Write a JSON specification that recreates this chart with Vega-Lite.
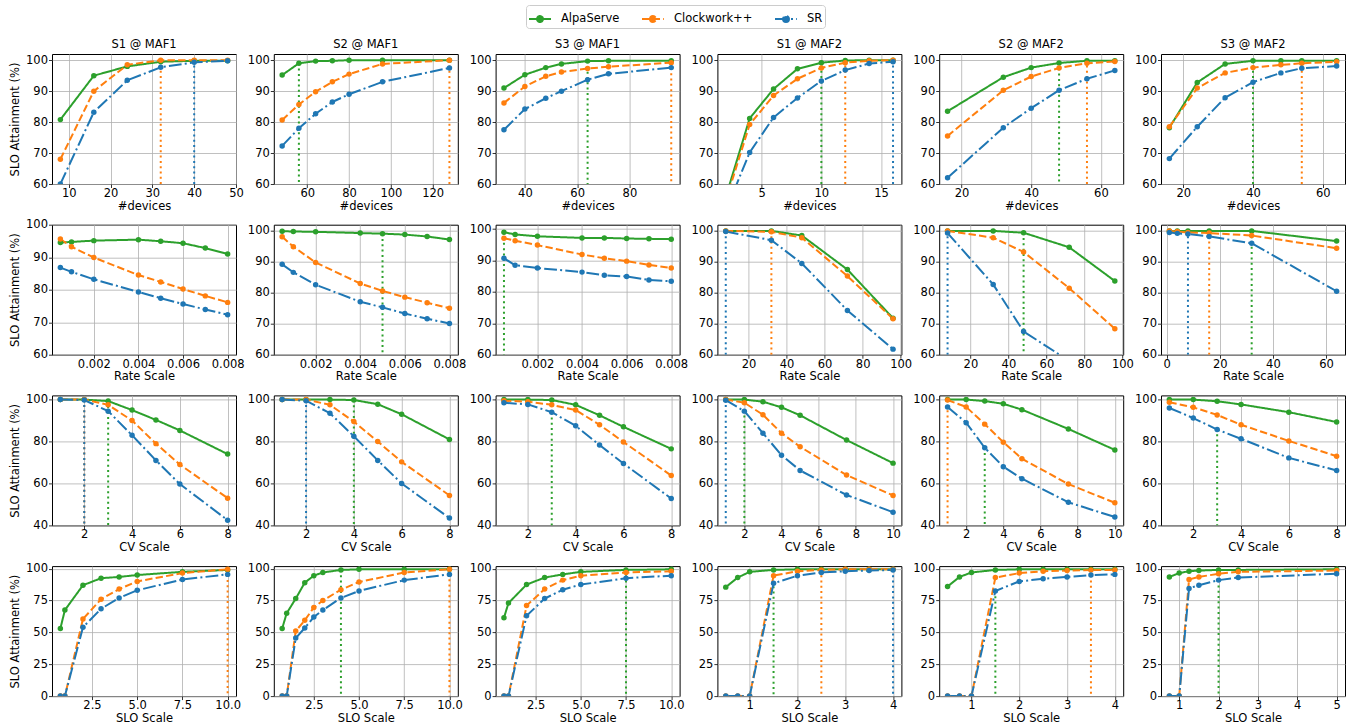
{
"$schema":"https://vega.github.io/schema/vega-lite/v6.json",
"padding":{"left":9,"top":4,"right":0,"bottom":0},
"datasets":{
"d":[
{"p":11,"x":8,"AlpaServe":80.8,"Clockwork++":68,"SR":60},
{"p":11,"x":16,"AlpaServe":95,"Clockwork++":90,"SR":83.2},
{"p":11,"x":24,"AlpaServe":98,"Clockwork++":98.5,"SR":93.5},
{"p":11,"x":32,"AlpaServe":99.5,"Clockwork++":100,"SR":97.7},
{"p":11,"x":40,"AlpaServe":99.8,"Clockwork++":100,"SR":99.3},
{"p":11,"x":48,"AlpaServe":99.8,"Clockwork++":100,"SR":99.8},
{"p":12,"x":48,"AlpaServe":95.2,"Clockwork++":80.7,"SR":72.3},
{"p":12,"x":56,"AlpaServe":99,"Clockwork++":85.7,"SR":78},
{"p":12,"x":64,"AlpaServe":99.7,"Clockwork++":89.8,"SR":82.7},
{"p":12,"x":72,"AlpaServe":99.8,"Clockwork++":93,"SR":86.5},
{"p":12,"x":80,"AlpaServe":100,"Clockwork++":95.5,"SR":89},
{"p":12,"x":96,"AlpaServe":100,"Clockwork++":98.8,"SR":93},
{"p":12,"x":128,"AlpaServe":100,"Clockwork++":100,"SR":97.5},
{"p":13,"x":32,"AlpaServe":91,"Clockwork++":86.2,"SR":77.5},
{"p":13,"x":40,"AlpaServe":95.3,"Clockwork++":91.5,"SR":84.2},
{"p":13,"x":48,"AlpaServe":97.6,"Clockwork++":94.8,"SR":87.7},
{"p":13,"x":54,"AlpaServe":98.8,"Clockwork++":96.2,"SR":90},
{"p":13,"x":64,"AlpaServe":99.7,"Clockwork++":97.3,"SR":93.7},
{"p":13,"x":72,"AlpaServe":99.8,"Clockwork++":97.9,"SR":95.6},
{"p":13,"x":96,"AlpaServe":99.8,"Clockwork++":99.2,"SR":97.6},
{"p":14,"x":2,"AlpaServe":55.8,"Clockwork++":54.6,"SR":51.3},
{"p":14,"x":4,"AlpaServe":81.2,"Clockwork++":79.2,"SR":70.2},
{"p":14,"x":6,"AlpaServe":90.7,"Clockwork++":88.6,"SR":81.5},
{"p":14,"x":8,"AlpaServe":97.2,"Clockwork++":94,"SR":87.8},
{"p":14,"x":10,"AlpaServe":99.2,"Clockwork++":97.5,"SR":93.3},
{"p":14,"x":12,"AlpaServe":99.9,"Clockwork++":99.2,"SR":96.8},
{"p":14,"x":14,"AlpaServe":100,"Clockwork++":99.8,"SR":98.9},
{"p":14,"x":16,"AlpaServe":100,"Clockwork++":100,"SR":99.5},
{"p":15,"x":16,"AlpaServe":83.5,"Clockwork++":75.5,"SR":62},
{"p":15,"x":32,"AlpaServe":94.5,"Clockwork++":90.3,"SR":78.2},
{"p":15,"x":40,"AlpaServe":97.6,"Clockwork++":94.7,"SR":84.5},
{"p":15,"x":48,"AlpaServe":99.1,"Clockwork++":97.5,"SR":90.3},
{"p":15,"x":56,"AlpaServe":99.8,"Clockwork++":99,"SR":94},
{"p":15,"x":64,"AlpaServe":99.8,"Clockwork++":99.6,"SR":96.7},
{"p":16,"x":16,"AlpaServe":78.2,"Clockwork++":78.5,"SR":68.2},
{"p":16,"x":24,"AlpaServe":92.8,"Clockwork++":91,"SR":78.5},
{"p":16,"x":32,"AlpaServe":98.8,"Clockwork++":95.9,"SR":87.9},
{"p":16,"x":40,"AlpaServe":99.8,"Clockwork++":97.6,"SR":92.9},
{"p":16,"x":48,"AlpaServe":99.8,"Clockwork++":98.5,"SR":95.9},
{"p":16,"x":54,"AlpaServe":99.8,"Clockwork++":99,"SR":97.4},
{"p":16,"x":64,"AlpaServe":99.8,"Clockwork++":99.5,"SR":98.1},
{"p":21,"x":0.0005,"AlpaServe":94.5,"Clockwork++":95.6,"SR":86.8},
{"p":21,"x":0.001,"AlpaServe":94.7,"Clockwork++":93.2,"SR":85.5},
{"p":21,"x":0.002,"AlpaServe":95.1,"Clockwork++":89.9,"SR":83.2},
{"p":21,"x":0.004,"AlpaServe":95.4,"Clockwork++":84.5,"SR":79.3},
{"p":21,"x":0.005,"AlpaServe":94.9,"Clockwork++":82.4,"SR":77.4},
{"p":21,"x":0.006,"AlpaServe":94.3,"Clockwork++":80.2,"SR":75.6},
{"p":21,"x":0.007,"AlpaServe":92.8,"Clockwork++":78.1,"SR":73.9},
{"p":21,"x":0.008,"AlpaServe":91,"Clockwork++":76.1,"SR":72.3},
{"p":22,"x":0.0005,"AlpaServe":99.9,"Clockwork++":98.1,"SR":89.2},
{"p":22,"x":0.001,"AlpaServe":99.8,"Clockwork++":94.9,"SR":86.6},
{"p":22,"x":0.002,"AlpaServe":99.7,"Clockwork++":89.8,"SR":82.6},
{"p":22,"x":0.004,"AlpaServe":99.3,"Clockwork++":83,"SR":77.1},
{"p":22,"x":0.005,"AlpaServe":99.1,"Clockwork++":80.6,"SR":75.3},
{"p":22,"x":0.006,"AlpaServe":98.8,"Clockwork++":78.6,"SR":73.3},
{"p":22,"x":0.007,"AlpaServe":98.2,"Clockwork++":76.8,"SR":71.6},
{"p":22,"x":0.008,"AlpaServe":97.2,"Clockwork++":75,"SR":70.1},
{"p":23,"x":0.0005,"AlpaServe":99,"Clockwork++":97.1,"SR":90.7},
{"p":23,"x":0.001,"AlpaServe":98.3,"Clockwork++":96.3,"SR":88.5},
{"p":23,"x":0.002,"AlpaServe":97.7,"Clockwork++":94.9,"SR":87.6},
{"p":23,"x":0.004,"AlpaServe":97.2,"Clockwork++":91.9,"SR":86.3},
{"p":23,"x":0.005,"AlpaServe":97.2,"Clockwork++":90.7,"SR":85.3},
{"p":23,"x":0.006,"AlpaServe":97,"Clockwork++":89.8,"SR":84.9},
{"p":23,"x":0.007,"AlpaServe":96.9,"Clockwork++":88.6,"SR":83.8},
{"p":23,"x":0.008,"AlpaServe":96.8,"Clockwork++":87.6,"SR":83.4},
{"p":24,"x":8,"AlpaServe":100,"Clockwork++":100,"SR":99.8},
{"p":24,"x":32,"AlpaServe":100,"Clockwork++":99.7,"SR":97},
{"p":24,"x":48,"AlpaServe":98.5,"Clockwork++":97.8,"SR":89.5},
{"p":24,"x":72,"AlpaServe":87.5,"Clockwork++":85.4,"SR":74.3},
{"p":24,"x":96,"AlpaServe":71.8,"Clockwork++":71.6,"SR":61.8},
{"p":25,"x":8,"AlpaServe":100,"Clockwork++":100,"SR":99.3},
{"p":25,"x":32,"AlpaServe":100,"Clockwork++":97.8,"SR":82.7},
{"p":25,"x":48,"AlpaServe":99.4,"Clockwork++":93.2,"SR":67.5},
{"p":25,"x":72,"AlpaServe":94.7,"Clockwork++":81.5,"SR":58},
{"p":25,"x":96,"AlpaServe":83.8,"Clockwork++":68.4,"SR":46},
{"p":26,"x":1,"AlpaServe":100,"Clockwork++":100,"SR":99.5},
{"p":26,"x":4,"AlpaServe":100,"Clockwork++":99.8,"SR":99.2},
{"p":26,"x":8,"AlpaServe":100,"Clockwork++":99.5,"SR":99},
{"p":26,"x":16,"AlpaServe":100,"Clockwork++":99.3,"SR":98.2},
{"p":26,"x":32,"AlpaServe":100,"Clockwork++":98.5,"SR":96},
{"p":26,"x":64,"AlpaServe":96.7,"Clockwork++":94.4,"SR":80.5},
{"p":31,"x":1,"AlpaServe":100,"Clockwork++":100,"SR":100},
{"p":31,"x":2,"AlpaServe":100,"Clockwork++":100,"SR":99.8},
{"p":31,"x":3,"AlpaServe":99.3,"Clockwork++":97.5,"SR":94.5},
{"p":31,"x":4,"AlpaServe":95,"Clockwork++":90,"SR":83},
{"p":31,"x":5,"AlpaServe":90.3,"Clockwork++":79,"SR":71},
{"p":31,"x":6,"AlpaServe":85.3,"Clockwork++":69,"SR":59.7},
{"p":31,"x":8,"AlpaServe":74,"Clockwork++":53,"SR":42.5},
{"p":32,"x":1,"AlpaServe":100,"Clockwork++":100,"SR":100},
{"p":32,"x":2,"AlpaServe":100,"Clockwork++":100,"SR":99.5},
{"p":32,"x":3,"AlpaServe":100,"Clockwork++":97.5,"SR":93.5},
{"p":32,"x":4,"AlpaServe":99.8,"Clockwork++":89.5,"SR":82.5},
{"p":32,"x":5,"AlpaServe":97.8,"Clockwork++":80,"SR":71},
{"p":32,"x":6,"AlpaServe":93,"Clockwork++":70.3,"SR":60},
{"p":32,"x":8,"AlpaServe":81,"Clockwork++":54.3,"SR":43.5},
{"p":33,"x":1,"AlpaServe":100,"Clockwork++":99.5,"SR":98.5},
{"p":33,"x":2,"AlpaServe":100,"Clockwork++":99,"SR":97.7},
{"p":33,"x":3,"AlpaServe":99.8,"Clockwork++":97.5,"SR":94},
{"p":33,"x":4,"AlpaServe":97.5,"Clockwork++":95,"SR":87.5},
{"p":33,"x":5,"AlpaServe":92.5,"Clockwork++":88,"SR":78.3},
{"p":33,"x":6,"AlpaServe":87,"Clockwork++":79.8,"SR":69.5},
{"p":33,"x":8,"AlpaServe":76.5,"Clockwork++":63.8,"SR":52.8},
{"p":34,"x":1,"AlpaServe":100,"Clockwork++":100,"SR":99.7},
{"p":34,"x":2,"AlpaServe":100,"Clockwork++":98.5,"SR":94.5},
{"p":34,"x":3,"AlpaServe":99,"Clockwork++":92.8,"SR":84},
{"p":34,"x":4,"AlpaServe":96.3,"Clockwork++":84,"SR":73.5},
{"p":34,"x":5,"AlpaServe":92.5,"Clockwork++":77.5,"SR":66.2},
{"p":34,"x":7.5,"AlpaServe":80.7,"Clockwork++":64,"SR":54.5},
{"p":34,"x":10,"AlpaServe":69.7,"Clockwork++":54.3,"SR":46.3},
{"p":35,"x":1,"AlpaServe":100,"Clockwork++":99.8,"SR":96.5},
{"p":35,"x":2,"AlpaServe":100,"Clockwork++":96.5,"SR":89},
{"p":35,"x":3,"AlpaServe":99.3,"Clockwork++":88.3,"SR":77},
{"p":35,"x":4,"AlpaServe":98,"Clockwork++":79.7,"SR":68},
{"p":35,"x":5,"AlpaServe":95.2,"Clockwork++":71.8,"SR":62.3},
{"p":35,"x":7.5,"AlpaServe":86,"Clockwork++":59.7,"SR":51},
{"p":35,"x":10,"AlpaServe":76,"Clockwork++":50.8,"SR":44},
{"p":36,"x":1,"AlpaServe":100,"Clockwork++":98.7,"SR":96},
{"p":36,"x":2,"AlpaServe":100,"Clockwork++":96.3,"SR":91.2},
{"p":36,"x":3,"AlpaServe":99.2,"Clockwork++":92.7,"SR":85.7},
{"p":36,"x":4,"AlpaServe":97.7,"Clockwork++":88,"SR":81.3},
{"p":36,"x":6,"AlpaServe":94,"Clockwork++":80.3,"SR":72.2},
{"p":36,"x":8,"AlpaServe":89.3,"Clockwork++":73,"SR":66.2},
{"p":41,"x":0.75,"AlpaServe":53,"Clockwork++":0,"SR":0},
{"p":41,"x":1,"AlpaServe":67.5,"Clockwork++":0,"SR":0},
{"p":41,"x":2,"AlpaServe":87,"Clockwork++":60.5,"SR":54},
{"p":41,"x":3,"AlpaServe":92.5,"Clockwork++":76,"SR":68.5},
{"p":41,"x":4,"AlpaServe":93.5,"Clockwork++":84,"SR":77},
{"p":41,"x":5,"AlpaServe":95,"Clockwork++":90,"SR":83},
{"p":41,"x":7.5,"AlpaServe":97.5,"Clockwork++":96.5,"SR":91.5},
{"p":41,"x":10,"AlpaServe":99,"Clockwork++":99.5,"SR":95.5},
{"p":42,"x":0.75,"AlpaServe":53,"Clockwork++":0,"SR":0},
{"p":42,"x":1,"AlpaServe":65,"Clockwork++":0,"SR":0},
{"p":42,"x":1.5,"AlpaServe":76.5,"Clockwork++":51,"SR":45.5},
{"p":42,"x":2,"AlpaServe":89,"Clockwork++":59.5,"SR":53.5},
{"p":42,"x":2.5,"AlpaServe":94.5,"Clockwork++":69.5,"SR":62},
{"p":42,"x":3,"AlpaServe":97,"Clockwork++":75,"SR":67.5},
{"p":42,"x":4,"AlpaServe":99,"Clockwork++":83.5,"SR":77},
{"p":42,"x":5,"AlpaServe":99.5,"Clockwork++":89.5,"SR":82.5},
{"p":42,"x":7.5,"AlpaServe":99.5,"Clockwork++":97,"SR":91},
{"p":42,"x":10,"AlpaServe":99.5,"Clockwork++":99.5,"SR":95.5},
{"p":43,"x":0.75,"AlpaServe":61.5,"Clockwork++":0,"SR":0},
{"p":43,"x":1,"AlpaServe":73,"Clockwork++":0,"SR":0},
{"p":43,"x":2,"AlpaServe":87.5,"Clockwork++":71,"SR":63},
{"p":43,"x":3,"AlpaServe":93,"Clockwork++":84,"SR":76.5},
{"p":43,"x":4,"AlpaServe":95.5,"Clockwork++":91,"SR":83.5},
{"p":43,"x":5,"AlpaServe":97.5,"Clockwork++":94.5,"SR":87.5},
{"p":43,"x":7.5,"AlpaServe":99,"Clockwork++":97,"SR":92.5},
{"p":43,"x":10,"AlpaServe":99.5,"Clockwork++":98,"SR":94.5},
{"p":44,"x":0.5,"AlpaServe":85.5,"Clockwork++":0,"SR":0},
{"p":44,"x":0.75,"AlpaServe":93,"Clockwork++":0,"SR":0},
{"p":44,"x":1,"AlpaServe":97.5,"Clockwork++":0,"SR":0},
{"p":44,"x":1.5,"AlpaServe":99,"Clockwork++":94.5,"SR":88.5},
{"p":44,"x":2,"AlpaServe":99.5,"Clockwork++":98,"SR":94.5},
{"p":44,"x":2.5,"AlpaServe":99.5,"Clockwork++":99,"SR":97},
{"p":44,"x":3,"AlpaServe":99.5,"Clockwork++":99.5,"SR":98},
{"p":44,"x":3.5,"AlpaServe":99.5,"Clockwork++":99.5,"SR":98.5},
{"p":44,"x":4,"AlpaServe":99.5,"Clockwork++":99.5,"SR":99},
{"p":45,"x":0.5,"AlpaServe":86,"Clockwork++":0,"SR":0},
{"p":45,"x":0.75,"AlpaServe":93.5,"Clockwork++":0,"SR":0},
{"p":45,"x":1,"AlpaServe":97,"Clockwork++":0,"SR":0},
{"p":45,"x":1.5,"AlpaServe":99,"Clockwork++":93,"SR":82.5},
{"p":45,"x":2,"AlpaServe":99.5,"Clockwork++":96.5,"SR":90},
{"p":45,"x":2.5,"AlpaServe":99.5,"Clockwork++":98,"SR":92},
{"p":45,"x":3,"AlpaServe":99.5,"Clockwork++":98.5,"SR":93.5},
{"p":45,"x":3.5,"AlpaServe":99.5,"Clockwork++":99,"SR":95},
{"p":45,"x":4,"AlpaServe":99.5,"Clockwork++":99,"SR":95.5},
{"p":46,"x":0.75,"AlpaServe":93.5,"Clockwork++":0,"SR":0},
{"p":46,"x":1,"AlpaServe":96.5,"Clockwork++":0,"SR":0},
{"p":46,"x":1.25,"AlpaServe":98,"Clockwork++":91.5,"SR":84.5},
{"p":46,"x":1.5,"AlpaServe":98.5,"Clockwork++":93.5,"SR":87},
{"p":46,"x":2,"AlpaServe":99,"Clockwork++":96,"SR":91},
{"p":46,"x":2.5,"AlpaServe":99,"Clockwork++":97.5,"SR":93},
{"p":46,"x":5,"AlpaServe":99.5,"Clockwork++":98.5,"SR":96}
],
"r":[
{"p":11,"s":"Clockwork++","x":32,"y":100},{"p":11,"s":"SR","x":40,"y":100},
{"p":12,"s":"AlpaServe","x":56,"y":99},{"p":12,"s":"Clockwork++","x":128,"y":100},
{"p":13,"s":"AlpaServe","x":64,"y":99.7},{"p":13,"s":"Clockwork++","x":96,"y":99.2},
{"p":14,"s":"AlpaServe","x":10,"y":100},{"p":14,"s":"Clockwork++","x":12,"y":100},{"p":14,"s":"SR","x":16,"y":100},
{"p":15,"s":"AlpaServe","x":48,"y":99.1},{"p":15,"s":"Clockwork++","x":56,"y":100},
{"p":16,"s":"AlpaServe","x":40,"y":100},{"p":16,"s":"Clockwork++","x":54,"y":100},
{"p":22,"s":"AlpaServe","x":0.005,"y":99.1},
{"p":23,"s":"AlpaServe","x":0.0005,"y":99},
{"p":24,"s":"Clockwork++","x":32,"y":100},{"p":24,"s":"SR","x":8,"y":100},
{"p":25,"s":"AlpaServe","x":48,"y":99.4},{"p":25,"s":"SR","x":8,"y":100},
{"p":26,"s":"AlpaServe","x":32,"y":100},{"p":26,"s":"Clockwork++","x":16,"y":100},{"p":26,"s":"SR","x":8,"y":100},
{"p":31,"s":"AlpaServe","x":3,"y":99.3},{"p":31,"s":"Clockwork++","x":2,"y":100},{"p":31,"s":"SR","x":2,"y":100},
{"p":32,"s":"AlpaServe","x":4,"y":99.8},{"p":32,"s":"SR","x":2,"y":100},
{"p":33,"s":"AlpaServe","x":3,"y":94},
{"p":34,"s":"AlpaServe","x":2,"y":95},{"p":34,"s":"SR","x":1,"y":100},
{"p":35,"s":"AlpaServe","x":3,"y":77},{"p":35,"s":"Clockwork++","x":1,"y":100},
{"p":36,"s":"AlpaServe","x":3,"y":86},
{"p":41,"s":"Clockwork++","x":10,"y":99.5},
{"p":42,"s":"AlpaServe","x":4,"y":99},{"p":42,"s":"Clockwork++","x":10,"y":100},
{"p":43,"s":"AlpaServe","x":7.5,"y":99},
{"p":44,"s":"AlpaServe","x":1.5,"y":94.5},{"p":44,"s":"Clockwork++","x":2.5,"y":99},{"p":44,"s":"SR","x":4,"y":99},
{"p":45,"s":"AlpaServe","x":1.5,"y":82.5},{"p":45,"s":"Clockwork++","x":3.5,"y":99},
{"p":46,"s":"AlpaServe","x":2,"y":91}
]},
"data":{"name":"d"},
"columns":6,
"bounds":"flush",
"spacing":{"row":40.7,"column":37.8},
"concat":[
{"width":184,"height":130,"title":"S1 @ MAF1","encoding":{"x":{"field":"x","type":"quantitative","scale":{"domain":[6,50],"nice":false},"axis":{"values":[10,20,30,40,50],"title":"#devices"}},"y":{"field":"y","type":"quantitative","scale":{"domain":[60,102],"nice":false},"axis":{"values":[60,70,80,90,100],"title":"SLO Attainment (%)"}},"color":{"field":"s","type":"nominal","title":null,"legend":{"encode":{"symbols":{"update":{"stroke":{"scale":"color","field":"value"},"fill":{"scale":"color","field":"value"},"fillOpacity":{"value":1},"strokeDash":{"scale":"strokeDash","field":"value"}}}}}}},
"layer":[{"data":{"name":"r"},"transform":[{"filter":"datum.p==11"}],"mark":{"type":"rule","strokeDash":[2,3.3],"strokeWidth":2,"clip":true},"encoding":{"y2":{"datum":60}}},
{"transform":[{"filter":"datum.p==11"},{"fold":["AlpaServe","Clockwork++","SR"],"as":["s","y"]}],"mark":{"type":"line","strokeWidth":2,"clip":true},"encoding":{"strokeDash":{"field":"s","type":"nominal","legend":null,"scale":{"range":[[1,0],[7.4,3.2],[12.8,3.2,2,3.2]]}}}},
{"transform":[{"filter":"datum.p==11"},{"fold":["AlpaServe","Clockwork++","SR"],"as":["s","y"]}],"mark":{"type":"circle","size":30,"opacity":1,"clip":true}}]},
{"width":184,"height":130,"title":"S2 @ MAF1","encoding":{"x":{"field":"x","type":"quantitative","scale":{"domain":[44,132],"nice":false},"axis":{"values":[60,80,100,120],"title":"#devices"}},"y":{"field":"y","type":"quantitative","scale":{"domain":[60,102],"nice":false},"axis":{"values":[60,70,80,90,100],"title":null}},"color":{"field":"s","type":"nominal","title":null,"legend":{"encode":{"symbols":{"update":{"stroke":{"scale":"color","field":"value"},"fill":{"scale":"color","field":"value"},"fillOpacity":{"value":1},"strokeDash":{"scale":"strokeDash","field":"value"}}}}}}},
"layer":[{"data":{"name":"r"},"transform":[{"filter":"datum.p==12"}],"mark":{"type":"rule","strokeDash":[2,3.3],"strokeWidth":2,"clip":true},"encoding":{"y2":{"datum":60}}},
{"transform":[{"filter":"datum.p==12"},{"fold":["AlpaServe","Clockwork++","SR"],"as":["s","y"]}],"mark":{"type":"line","strokeWidth":2,"clip":true},"encoding":{"strokeDash":{"field":"s","type":"nominal","legend":null,"scale":{"range":[[1,0],[7.4,3.2],[12.8,3.2,2,3.2]]}}}},
{"transform":[{"filter":"datum.p==12"},{"fold":["AlpaServe","Clockwork++","SR"],"as":["s","y"]}],"mark":{"type":"circle","size":30,"opacity":1,"clip":true}}]},
{"width":184,"height":130,"title":"S3 @ MAF1","encoding":{"x":{"field":"x","type":"quantitative","scale":{"domain":[28.8,99.2],"nice":false},"axis":{"values":[40,60,80],"title":"#devices"}},"y":{"field":"y","type":"quantitative","scale":{"domain":[60,102],"nice":false},"axis":{"values":[60,70,80,90,100],"title":null}},"color":{"field":"s","type":"nominal","title":null,"legend":{"encode":{"symbols":{"update":{"stroke":{"scale":"color","field":"value"},"fill":{"scale":"color","field":"value"},"fillOpacity":{"value":1},"strokeDash":{"scale":"strokeDash","field":"value"}}}}}}},
"layer":[{"data":{"name":"r"},"transform":[{"filter":"datum.p==13"}],"mark":{"type":"rule","strokeDash":[2,3.3],"strokeWidth":2,"clip":true},"encoding":{"y2":{"datum":60}}},
{"transform":[{"filter":"datum.p==13"},{"fold":["AlpaServe","Clockwork++","SR"],"as":["s","y"]}],"mark":{"type":"line","strokeWidth":2,"clip":true},"encoding":{"strokeDash":{"field":"s","type":"nominal","legend":null,"scale":{"range":[[1,0],[7.4,3.2],[12.8,3.2,2,3.2]]}}}},
{"transform":[{"filter":"datum.p==13"},{"fold":["AlpaServe","Clockwork++","SR"],"as":["s","y"]}],"mark":{"type":"circle","size":30,"opacity":1,"clip":true}}]},
{"width":184,"height":130,"title":"S1 @ MAF2","encoding":{"x":{"field":"x","type":"quantitative","scale":{"domain":[1.3,16.7],"nice":false},"axis":{"values":[5,10,15],"title":"#devices"}},"y":{"field":"y","type":"quantitative","scale":{"domain":[60,102],"nice":false},"axis":{"values":[60,70,80,90,100],"title":null}},"color":{"field":"s","type":"nominal","title":null,"legend":{"encode":{"symbols":{"update":{"stroke":{"scale":"color","field":"value"},"fill":{"scale":"color","field":"value"},"fillOpacity":{"value":1},"strokeDash":{"scale":"strokeDash","field":"value"}}}}}}},
"layer":[{"data":{"name":"r"},"transform":[{"filter":"datum.p==14"}],"mark":{"type":"rule","strokeDash":[2,3.3],"strokeWidth":2,"clip":true},"encoding":{"y2":{"datum":60}}},
{"transform":[{"filter":"datum.p==14"},{"fold":["AlpaServe","Clockwork++","SR"],"as":["s","y"]}],"mark":{"type":"line","strokeWidth":2,"clip":true},"encoding":{"strokeDash":{"field":"s","type":"nominal","legend":null,"scale":{"range":[[1,0],[7.4,3.2],[12.8,3.2,2,3.2]]}}}},
{"transform":[{"filter":"datum.p==14"},{"fold":["AlpaServe","Clockwork++","SR"],"as":["s","y"]}],"mark":{"type":"circle","size":30,"opacity":1,"clip":true}}]},
{"width":184,"height":130,"title":"S2 @ MAF2","encoding":{"x":{"field":"x","type":"quantitative","scale":{"domain":[13.6,66.4],"nice":false},"axis":{"values":[20,40,60],"title":"#devices"}},"y":{"field":"y","type":"quantitative","scale":{"domain":[60,102],"nice":false},"axis":{"values":[60,70,80,90,100],"title":null}},"color":{"field":"s","type":"nominal","title":null,"legend":{"encode":{"symbols":{"update":{"stroke":{"scale":"color","field":"value"},"fill":{"scale":"color","field":"value"},"fillOpacity":{"value":1},"strokeDash":{"scale":"strokeDash","field":"value"}}}}}}},
"layer":[{"data":{"name":"r"},"transform":[{"filter":"datum.p==15"}],"mark":{"type":"rule","strokeDash":[2,3.3],"strokeWidth":2,"clip":true},"encoding":{"y2":{"datum":60}}},
{"transform":[{"filter":"datum.p==15"},{"fold":["AlpaServe","Clockwork++","SR"],"as":["s","y"]}],"mark":{"type":"line","strokeWidth":2,"clip":true},"encoding":{"strokeDash":{"field":"s","type":"nominal","legend":null,"scale":{"range":[[1,0],[7.4,3.2],[12.8,3.2,2,3.2]]}}}},
{"transform":[{"filter":"datum.p==15"},{"fold":["AlpaServe","Clockwork++","SR"],"as":["s","y"]}],"mark":{"type":"circle","size":30,"opacity":1,"clip":true}}]},
{"width":184,"height":130,"title":"S3 @ MAF2","encoding":{"x":{"field":"x","type":"quantitative","scale":{"domain":[13.6,66.4],"nice":false},"axis":{"values":[20,40,60],"title":"#devices"}},"y":{"field":"y","type":"quantitative","scale":{"domain":[60,102],"nice":false},"axis":{"values":[60,70,80,90,100],"title":null}},"color":{"field":"s","type":"nominal","title":null,"legend":{"encode":{"symbols":{"update":{"stroke":{"scale":"color","field":"value"},"fill":{"scale":"color","field":"value"},"fillOpacity":{"value":1},"strokeDash":{"scale":"strokeDash","field":"value"}}}}}}},
"layer":[{"data":{"name":"r"},"transform":[{"filter":"datum.p==16"}],"mark":{"type":"rule","strokeDash":[2,3.3],"strokeWidth":2,"clip":true},"encoding":{"y2":{"datum":60}}},
{"transform":[{"filter":"datum.p==16"},{"fold":["AlpaServe","Clockwork++","SR"],"as":["s","y"]}],"mark":{"type":"line","strokeWidth":2,"clip":true},"encoding":{"strokeDash":{"field":"s","type":"nominal","legend":null,"scale":{"range":[[1,0],[7.4,3.2],[12.8,3.2,2,3.2]]}}}},
{"transform":[{"filter":"datum.p==16"},{"fold":["AlpaServe","Clockwork++","SR"],"as":["s","y"]}],"mark":{"type":"circle","size":30,"opacity":1,"clip":true}}]},

{"width":184,"height":130,"encoding":{"x":{"field":"x","type":"quantitative","scale":{"domain":[0.000125,0.008375],"nice":false},"axis":{"values":[0.002,0.004,0.006,0.008],"title":"Rate Scale"}},"y":{"field":"y","type":"quantitative","scale":{"domain":[60,100],"nice":false},"axis":{"values":[60,70,80,90,100],"title":"SLO Attainment (%)"}},"color":{"field":"s","type":"nominal","title":null,"legend":{"encode":{"symbols":{"update":{"stroke":{"scale":"color","field":"value"},"fill":{"scale":"color","field":"value"},"fillOpacity":{"value":1},"strokeDash":{"scale":"strokeDash","field":"value"}}}}}}},
"layer":[{"data":{"name":"r"},"transform":[{"filter":"datum.p==21"}],"mark":{"type":"rule","strokeDash":[2,3.3],"strokeWidth":2,"clip":true},"encoding":{"y2":{"datum":60}}},
{"transform":[{"filter":"datum.p==21"},{"fold":["AlpaServe","Clockwork++","SR"],"as":["s","y"]}],"mark":{"type":"line","strokeWidth":2,"clip":true},"encoding":{"strokeDash":{"field":"s","type":"nominal","legend":null,"scale":{"range":[[1,0],[7.4,3.2],[12.8,3.2,2,3.2]]}}}},
{"transform":[{"filter":"datum.p==21"},{"fold":["AlpaServe","Clockwork++","SR"],"as":["s","y"]}],"mark":{"type":"circle","size":30,"opacity":1,"clip":true}}]},
{"width":184,"height":130,"encoding":{"x":{"field":"x","type":"quantitative","scale":{"domain":[0.000125,0.008375],"nice":false},"axis":{"values":[0.002,0.004,0.006,0.008],"title":"Rate Scale"}},"y":{"field":"y","type":"quantitative","scale":{"domain":[60,102],"nice":false},"axis":{"values":[60,70,80,90,100],"title":null}},"color":{"field":"s","type":"nominal","title":null,"legend":{"encode":{"symbols":{"update":{"stroke":{"scale":"color","field":"value"},"fill":{"scale":"color","field":"value"},"fillOpacity":{"value":1},"strokeDash":{"scale":"strokeDash","field":"value"}}}}}}},
"layer":[{"data":{"name":"r"},"transform":[{"filter":"datum.p==22"}],"mark":{"type":"rule","strokeDash":[2,3.3],"strokeWidth":2,"clip":true},"encoding":{"y2":{"datum":60}}},
{"transform":[{"filter":"datum.p==22"},{"fold":["AlpaServe","Clockwork++","SR"],"as":["s","y"]}],"mark":{"type":"line","strokeWidth":2,"clip":true},"encoding":{"strokeDash":{"field":"s","type":"nominal","legend":null,"scale":{"range":[[1,0],[7.4,3.2],[12.8,3.2,2,3.2]]}}}},
{"transform":[{"filter":"datum.p==22"},{"fold":["AlpaServe","Clockwork++","SR"],"as":["s","y"]}],"mark":{"type":"circle","size":30,"opacity":1,"clip":true}}]},
{"width":184,"height":130,"encoding":{"x":{"field":"x","type":"quantitative","scale":{"domain":[0.000125,0.008375],"nice":false},"axis":{"values":[0.002,0.004,0.006,0.008],"title":"Rate Scale"}},"y":{"field":"y","type":"quantitative","scale":{"domain":[60,101.4],"nice":false},"axis":{"values":[60,70,80,90,100],"title":null}},"color":{"field":"s","type":"nominal","title":null,"legend":{"encode":{"symbols":{"update":{"stroke":{"scale":"color","field":"value"},"fill":{"scale":"color","field":"value"},"fillOpacity":{"value":1},"strokeDash":{"scale":"strokeDash","field":"value"}}}}}}},
"layer":[{"data":{"name":"r"},"transform":[{"filter":"datum.p==23"}],"mark":{"type":"rule","strokeDash":[2,3.3],"strokeWidth":2,"clip":true},"encoding":{"y2":{"datum":60}}},
{"transform":[{"filter":"datum.p==23"},{"fold":["AlpaServe","Clockwork++","SR"],"as":["s","y"]}],"mark":{"type":"line","strokeWidth":2,"clip":true},"encoding":{"strokeDash":{"field":"s","type":"nominal","legend":null,"scale":{"range":[[1,0],[7.4,3.2],[12.8,3.2,2,3.2]]}}}},
{"transform":[{"filter":"datum.p==23"},{"fold":["AlpaServe","Clockwork++","SR"],"as":["s","y"]}],"mark":{"type":"circle","size":30,"opacity":1,"clip":true}}]},
{"width":184,"height":130,"encoding":{"x":{"field":"x","type":"quantitative","scale":{"domain":[3.6,100.4],"nice":false},"axis":{"values":[20,40,60,80,100],"title":"Rate Scale"}},"y":{"field":"y","type":"quantitative","scale":{"domain":[60,102],"nice":false},"axis":{"values":[60,70,80,90,100],"title":null}},"color":{"field":"s","type":"nominal","title":null,"legend":{"encode":{"symbols":{"update":{"stroke":{"scale":"color","field":"value"},"fill":{"scale":"color","field":"value"},"fillOpacity":{"value":1},"strokeDash":{"scale":"strokeDash","field":"value"}}}}}}},
"layer":[{"data":{"name":"r"},"transform":[{"filter":"datum.p==24"}],"mark":{"type":"rule","strokeDash":[2,3.3],"strokeWidth":2,"clip":true},"encoding":{"y2":{"datum":60}}},
{"transform":[{"filter":"datum.p==24"},{"fold":["AlpaServe","Clockwork++","SR"],"as":["s","y"]}],"mark":{"type":"line","strokeWidth":2,"clip":true},"encoding":{"strokeDash":{"field":"s","type":"nominal","legend":null,"scale":{"range":[[1,0],[7.4,3.2],[12.8,3.2,2,3.2]]}}}},
{"transform":[{"filter":"datum.p==24"},{"fold":["AlpaServe","Clockwork++","SR"],"as":["s","y"]}],"mark":{"type":"circle","size":30,"opacity":1,"clip":true}}]},
{"width":184,"height":130,"encoding":{"x":{"field":"x","type":"quantitative","scale":{"domain":[3.6,100.4],"nice":false},"axis":{"values":[20,40,60,80,100],"title":"Rate Scale"}},"y":{"field":"y","type":"quantitative","scale":{"domain":[60,102],"nice":false},"axis":{"values":[60,70,80,90,100],"title":null}},"color":{"field":"s","type":"nominal","title":null,"legend":{"encode":{"symbols":{"update":{"stroke":{"scale":"color","field":"value"},"fill":{"scale":"color","field":"value"},"fillOpacity":{"value":1},"strokeDash":{"scale":"strokeDash","field":"value"}}}}}}},
"layer":[{"data":{"name":"r"},"transform":[{"filter":"datum.p==25"}],"mark":{"type":"rule","strokeDash":[2,3.3],"strokeWidth":2,"clip":true},"encoding":{"y2":{"datum":60}}},
{"transform":[{"filter":"datum.p==25"},{"fold":["AlpaServe","Clockwork++","SR"],"as":["s","y"]}],"mark":{"type":"line","strokeWidth":2,"clip":true},"encoding":{"strokeDash":{"field":"s","type":"nominal","legend":null,"scale":{"range":[[1,0],[7.4,3.2],[12.8,3.2,2,3.2]]}}}},
{"transform":[{"filter":"datum.p==25"},{"fold":["AlpaServe","Clockwork++","SR"],"as":["s","y"]}],"mark":{"type":"circle","size":30,"opacity":1,"clip":true}}]},
{"width":184,"height":130,"encoding":{"x":{"field":"x","type":"quantitative","scale":{"domain":[-2.15,67.15],"nice":false},"axis":{"values":[0,20,40,60],"title":"Rate Scale"}},"y":{"field":"y","type":"quantitative","scale":{"domain":[60,102],"nice":false},"axis":{"values":[60,70,80,90,100],"title":null}},"color":{"field":"s","type":"nominal","title":null,"legend":{"encode":{"symbols":{"update":{"stroke":{"scale":"color","field":"value"},"fill":{"scale":"color","field":"value"},"fillOpacity":{"value":1},"strokeDash":{"scale":"strokeDash","field":"value"}}}}}}},
"layer":[{"data":{"name":"r"},"transform":[{"filter":"datum.p==26"}],"mark":{"type":"rule","strokeDash":[2,3.3],"strokeWidth":2,"clip":true},"encoding":{"y2":{"datum":60}}},
{"transform":[{"filter":"datum.p==26"},{"fold":["AlpaServe","Clockwork++","SR"],"as":["s","y"]}],"mark":{"type":"line","strokeWidth":2,"clip":true},"encoding":{"strokeDash":{"field":"s","type":"nominal","legend":null,"scale":{"range":[[1,0],[7.4,3.2],[12.8,3.2,2,3.2]]}}}},
{"transform":[{"filter":"datum.p==26"},{"fold":["AlpaServe","Clockwork++","SR"],"as":["s","y"]}],"mark":{"type":"circle","size":30,"opacity":1,"clip":true}}]},

{"width":184,"height":130,"encoding":{"x":{"field":"x","type":"quantitative","scale":{"domain":[0.65,8.35],"nice":false},"axis":{"values":[2,4,6,8],"title":"CV Scale"}},"y":{"field":"y","type":"quantitative","scale":{"domain":[40,102],"nice":false},"axis":{"values":[40,60,80,100],"title":"SLO Attainment (%)"}},"color":{"field":"s","type":"nominal","title":null,"legend":{"encode":{"symbols":{"update":{"stroke":{"scale":"color","field":"value"},"fill":{"scale":"color","field":"value"},"fillOpacity":{"value":1},"strokeDash":{"scale":"strokeDash","field":"value"}}}}}}},
"layer":[{"data":{"name":"r"},"transform":[{"filter":"datum.p==31"}],"mark":{"type":"rule","strokeDash":[2,3.3],"strokeWidth":2,"clip":true},"encoding":{"y2":{"datum":40}}},
{"transform":[{"filter":"datum.p==31"},{"fold":["AlpaServe","Clockwork++","SR"],"as":["s","y"]}],"mark":{"type":"line","strokeWidth":2,"clip":true},"encoding":{"strokeDash":{"field":"s","type":"nominal","legend":null,"scale":{"range":[[1,0],[7.4,3.2],[12.8,3.2,2,3.2]]}}}},
{"transform":[{"filter":"datum.p==31"},{"fold":["AlpaServe","Clockwork++","SR"],"as":["s","y"]}],"mark":{"type":"circle","size":30,"opacity":1,"clip":true}}]},
{"width":184,"height":130,"encoding":{"x":{"field":"x","type":"quantitative","scale":{"domain":[0.65,8.35],"nice":false},"axis":{"values":[2,4,6,8],"title":"CV Scale"}},"y":{"field":"y","type":"quantitative","scale":{"domain":[40,102],"nice":false},"axis":{"values":[40,60,80,100],"title":null}},"color":{"field":"s","type":"nominal","title":null,"legend":{"encode":{"symbols":{"update":{"stroke":{"scale":"color","field":"value"},"fill":{"scale":"color","field":"value"},"fillOpacity":{"value":1},"strokeDash":{"scale":"strokeDash","field":"value"}}}}}}},
"layer":[{"data":{"name":"r"},"transform":[{"filter":"datum.p==32"}],"mark":{"type":"rule","strokeDash":[2,3.3],"strokeWidth":2,"clip":true},"encoding":{"y2":{"datum":40}}},
{"transform":[{"filter":"datum.p==32"},{"fold":["AlpaServe","Clockwork++","SR"],"as":["s","y"]}],"mark":{"type":"line","strokeWidth":2,"clip":true},"encoding":{"strokeDash":{"field":"s","type":"nominal","legend":null,"scale":{"range":[[1,0],[7.4,3.2],[12.8,3.2,2,3.2]]}}}},
{"transform":[{"filter":"datum.p==32"},{"fold":["AlpaServe","Clockwork++","SR"],"as":["s","y"]}],"mark":{"type":"circle","size":30,"opacity":1,"clip":true}}]},
{"width":184,"height":130,"encoding":{"x":{"field":"x","type":"quantitative","scale":{"domain":[0.65,8.35],"nice":false},"axis":{"values":[2,4,6,8],"title":"CV Scale"}},"y":{"field":"y","type":"quantitative","scale":{"domain":[40,102],"nice":false},"axis":{"values":[40,60,80,100],"title":null}},"color":{"field":"s","type":"nominal","title":null,"legend":{"encode":{"symbols":{"update":{"stroke":{"scale":"color","field":"value"},"fill":{"scale":"color","field":"value"},"fillOpacity":{"value":1},"strokeDash":{"scale":"strokeDash","field":"value"}}}}}}},
"layer":[{"data":{"name":"r"},"transform":[{"filter":"datum.p==33"}],"mark":{"type":"rule","strokeDash":[2,3.3],"strokeWidth":2,"clip":true},"encoding":{"y2":{"datum":40}}},
{"transform":[{"filter":"datum.p==33"},{"fold":["AlpaServe","Clockwork++","SR"],"as":["s","y"]}],"mark":{"type":"line","strokeWidth":2,"clip":true},"encoding":{"strokeDash":{"field":"s","type":"nominal","legend":null,"scale":{"range":[[1,0],[7.4,3.2],[12.8,3.2,2,3.2]]}}}},
{"transform":[{"filter":"datum.p==33"},{"fold":["AlpaServe","Clockwork++","SR"],"as":["s","y"]}],"mark":{"type":"circle","size":30,"opacity":1,"clip":true}}]},
{"width":184,"height":130,"encoding":{"x":{"field":"x","type":"quantitative","scale":{"domain":[0.55,10.45],"nice":false},"axis":{"values":[2,4,6,8,10],"title":"CV Scale"}},"y":{"field":"y","type":"quantitative","scale":{"domain":[40,102],"nice":false},"axis":{"values":[40,60,80,100],"title":null}},"color":{"field":"s","type":"nominal","title":null,"legend":{"encode":{"symbols":{"update":{"stroke":{"scale":"color","field":"value"},"fill":{"scale":"color","field":"value"},"fillOpacity":{"value":1},"strokeDash":{"scale":"strokeDash","field":"value"}}}}}}},
"layer":[{"data":{"name":"r"},"transform":[{"filter":"datum.p==34"}],"mark":{"type":"rule","strokeDash":[2,3.3],"strokeWidth":2,"clip":true},"encoding":{"y2":{"datum":40}}},
{"transform":[{"filter":"datum.p==34"},{"fold":["AlpaServe","Clockwork++","SR"],"as":["s","y"]}],"mark":{"type":"line","strokeWidth":2,"clip":true},"encoding":{"strokeDash":{"field":"s","type":"nominal","legend":null,"scale":{"range":[[1,0],[7.4,3.2],[12.8,3.2,2,3.2]]}}}},
{"transform":[{"filter":"datum.p==34"},{"fold":["AlpaServe","Clockwork++","SR"],"as":["s","y"]}],"mark":{"type":"circle","size":30,"opacity":1,"clip":true}}]},
{"width":184,"height":130,"encoding":{"x":{"field":"x","type":"quantitative","scale":{"domain":[0.55,10.45],"nice":false},"axis":{"values":[2,4,6,8,10],"title":"CV Scale"}},"y":{"field":"y","type":"quantitative","scale":{"domain":[40,102],"nice":false},"axis":{"values":[40,60,80,100],"title":null}},"color":{"field":"s","type":"nominal","title":null,"legend":{"encode":{"symbols":{"update":{"stroke":{"scale":"color","field":"value"},"fill":{"scale":"color","field":"value"},"fillOpacity":{"value":1},"strokeDash":{"scale":"strokeDash","field":"value"}}}}}}},
"layer":[{"data":{"name":"r"},"transform":[{"filter":"datum.p==35"}],"mark":{"type":"rule","strokeDash":[2,3.3],"strokeWidth":2,"clip":true},"encoding":{"y2":{"datum":40}}},
{"transform":[{"filter":"datum.p==35"},{"fold":["AlpaServe","Clockwork++","SR"],"as":["s","y"]}],"mark":{"type":"line","strokeWidth":2,"clip":true},"encoding":{"strokeDash":{"field":"s","type":"nominal","legend":null,"scale":{"range":[[1,0],[7.4,3.2],[12.8,3.2,2,3.2]]}}}},
{"transform":[{"filter":"datum.p==35"},{"fold":["AlpaServe","Clockwork++","SR"],"as":["s","y"]}],"mark":{"type":"circle","size":30,"opacity":1,"clip":true}}]},
{"width":184,"height":130,"encoding":{"x":{"field":"x","type":"quantitative","scale":{"domain":[0.65,8.35],"nice":false},"axis":{"values":[2,4,6,8],"title":"CV Scale"}},"y":{"field":"y","type":"quantitative","scale":{"domain":[40,102],"nice":false},"axis":{"values":[40,60,80,100],"title":null}},"color":{"field":"s","type":"nominal","title":null,"legend":{"encode":{"symbols":{"update":{"stroke":{"scale":"color","field":"value"},"fill":{"scale":"color","field":"value"},"fillOpacity":{"value":1},"strokeDash":{"scale":"strokeDash","field":"value"}}}}}}},
"layer":[{"data":{"name":"r"},"transform":[{"filter":"datum.p==36"}],"mark":{"type":"rule","strokeDash":[2,3.3],"strokeWidth":2,"clip":true},"encoding":{"y2":{"datum":40}}},
{"transform":[{"filter":"datum.p==36"},{"fold":["AlpaServe","Clockwork++","SR"],"as":["s","y"]}],"mark":{"type":"line","strokeWidth":2,"clip":true},"encoding":{"strokeDash":{"field":"s","type":"nominal","legend":null,"scale":{"range":[[1,0],[7.4,3.2],[12.8,3.2,2,3.2]]}}}},
{"transform":[{"filter":"datum.p==36"},{"fold":["AlpaServe","Clockwork++","SR"],"as":["s","y"]}],"mark":{"type":"circle","size":30,"opacity":1,"clip":true}}]},

{"width":184,"height":130,"encoding":{"x":{"field":"x","type":"quantitative","scale":{"domain":[0.2875,10.4625],"nice":false},"axis":{"values":[2.5,5,7.5,10],"format":".1f","title":"SLO Scale"}},"y":{"field":"y","type":"quantitative","scale":{"domain":[0,102],"nice":false},"axis":{"values":[0,25,50,75,100],"title":"SLO Attainment (%)"}},"color":{"field":"s","type":"nominal","title":null,"legend":{"encode":{"symbols":{"update":{"stroke":{"scale":"color","field":"value"},"fill":{"scale":"color","field":"value"},"fillOpacity":{"value":1},"strokeDash":{"scale":"strokeDash","field":"value"}}}}}}},
"layer":[{"data":{"name":"r"},"transform":[{"filter":"datum.p==41"}],"mark":{"type":"rule","strokeDash":[2,3.3],"strokeWidth":2,"clip":true},"encoding":{"y2":{"datum":0}}},
{"transform":[{"filter":"datum.p==41"},{"fold":["AlpaServe","Clockwork++","SR"],"as":["s","y"]}],"mark":{"type":"line","strokeWidth":2,"clip":true},"encoding":{"strokeDash":{"field":"s","type":"nominal","legend":null,"scale":{"range":[[1,0],[7.4,3.2],[12.8,3.2,2,3.2]]}}}},
{"transform":[{"filter":"datum.p==41"},{"fold":["AlpaServe","Clockwork++","SR"],"as":["s","y"]}],"mark":{"type":"circle","size":30,"opacity":1,"clip":true}}]},
{"width":184,"height":130,"encoding":{"x":{"field":"x","type":"quantitative","scale":{"domain":[0.2875,10.4625],"nice":false},"axis":{"values":[2.5,5,7.5,10],"format":".1f","title":"SLO Scale"}},"y":{"field":"y","type":"quantitative","scale":{"domain":[0,102],"nice":false},"axis":{"values":[0,25,50,75,100],"title":null}},"color":{"field":"s","type":"nominal","title":null,"legend":{"encode":{"symbols":{"update":{"stroke":{"scale":"color","field":"value"},"fill":{"scale":"color","field":"value"},"fillOpacity":{"value":1},"strokeDash":{"scale":"strokeDash","field":"value"}}}}}}},
"layer":[{"data":{"name":"r"},"transform":[{"filter":"datum.p==42"}],"mark":{"type":"rule","strokeDash":[2,3.3],"strokeWidth":2,"clip":true},"encoding":{"y2":{"datum":0}}},
{"transform":[{"filter":"datum.p==42"},{"fold":["AlpaServe","Clockwork++","SR"],"as":["s","y"]}],"mark":{"type":"line","strokeWidth":2,"clip":true},"encoding":{"strokeDash":{"field":"s","type":"nominal","legend":null,"scale":{"range":[[1,0],[7.4,3.2],[12.8,3.2,2,3.2]]}}}},
{"transform":[{"filter":"datum.p==42"},{"fold":["AlpaServe","Clockwork++","SR"],"as":["s","y"]}],"mark":{"type":"circle","size":30,"opacity":1,"clip":true}}]},
{"width":184,"height":130,"encoding":{"x":{"field":"x","type":"quantitative","scale":{"domain":[0.2875,10.4625],"nice":false},"axis":{"values":[2.5,5,7.5,10],"format":".1f","title":"SLO Scale"}},"y":{"field":"y","type":"quantitative","scale":{"domain":[0,102],"nice":false},"axis":{"values":[0,25,50,75,100],"title":null}},"color":{"field":"s","type":"nominal","title":null,"legend":{"encode":{"symbols":{"update":{"stroke":{"scale":"color","field":"value"},"fill":{"scale":"color","field":"value"},"fillOpacity":{"value":1},"strokeDash":{"scale":"strokeDash","field":"value"}}}}}}},
"layer":[{"data":{"name":"r"},"transform":[{"filter":"datum.p==43"}],"mark":{"type":"rule","strokeDash":[2,3.3],"strokeWidth":2,"clip":true},"encoding":{"y2":{"datum":0}}},
{"transform":[{"filter":"datum.p==43"},{"fold":["AlpaServe","Clockwork++","SR"],"as":["s","y"]}],"mark":{"type":"line","strokeWidth":2,"clip":true},"encoding":{"strokeDash":{"field":"s","type":"nominal","legend":null,"scale":{"range":[[1,0],[7.4,3.2],[12.8,3.2,2,3.2]]}}}},
{"transform":[{"filter":"datum.p==43"},{"fold":["AlpaServe","Clockwork++","SR"],"as":["s","y"]}],"mark":{"type":"circle","size":30,"opacity":1,"clip":true}}]},
{"width":184,"height":130,"encoding":{"x":{"field":"x","type":"quantitative","scale":{"domain":[0.325,4.175],"nice":false},"axis":{"values":[1,2,3,4],"title":"SLO Scale"}},"y":{"field":"y","type":"quantitative","scale":{"domain":[0,102],"nice":false},"axis":{"values":[0,25,50,75,100],"title":null}},"color":{"field":"s","type":"nominal","title":null,"legend":{"encode":{"symbols":{"update":{"stroke":{"scale":"color","field":"value"},"fill":{"scale":"color","field":"value"},"fillOpacity":{"value":1},"strokeDash":{"scale":"strokeDash","field":"value"}}}}}}},
"layer":[{"data":{"name":"r"},"transform":[{"filter":"datum.p==44"}],"mark":{"type":"rule","strokeDash":[2,3.3],"strokeWidth":2,"clip":true},"encoding":{"y2":{"datum":0}}},
{"transform":[{"filter":"datum.p==44"},{"fold":["AlpaServe","Clockwork++","SR"],"as":["s","y"]}],"mark":{"type":"line","strokeWidth":2,"clip":true},"encoding":{"strokeDash":{"field":"s","type":"nominal","legend":null,"scale":{"range":[[1,0],[7.4,3.2],[12.8,3.2,2,3.2]]}}}},
{"transform":[{"filter":"datum.p==44"},{"fold":["AlpaServe","Clockwork++","SR"],"as":["s","y"]}],"mark":{"type":"circle","size":30,"opacity":1,"clip":true}}]},
{"width":184,"height":130,"encoding":{"x":{"field":"x","type":"quantitative","scale":{"domain":[0.325,4.175],"nice":false},"axis":{"values":[1,2,3,4],"title":"SLO Scale"}},"y":{"field":"y","type":"quantitative","scale":{"domain":[0,102],"nice":false},"axis":{"values":[0,25,50,75,100],"title":null}},"color":{"field":"s","type":"nominal","title":null,"legend":{"encode":{"symbols":{"update":{"stroke":{"scale":"color","field":"value"},"fill":{"scale":"color","field":"value"},"fillOpacity":{"value":1},"strokeDash":{"scale":"strokeDash","field":"value"}}}}}}},
"layer":[{"data":{"name":"r"},"transform":[{"filter":"datum.p==45"}],"mark":{"type":"rule","strokeDash":[2,3.3],"strokeWidth":2,"clip":true},"encoding":{"y2":{"datum":0}}},
{"transform":[{"filter":"datum.p==45"},{"fold":["AlpaServe","Clockwork++","SR"],"as":["s","y"]}],"mark":{"type":"line","strokeWidth":2,"clip":true},"encoding":{"strokeDash":{"field":"s","type":"nominal","legend":null,"scale":{"range":[[1,0],[7.4,3.2],[12.8,3.2,2,3.2]]}}}},
{"transform":[{"filter":"datum.p==45"},{"fold":["AlpaServe","Clockwork++","SR"],"as":["s","y"]}],"mark":{"type":"circle","size":30,"opacity":1,"clip":true}}]},
{"width":184,"height":130,"encoding":{"x":{"field":"x","type":"quantitative","scale":{"domain":[0.5375,5.2125],"nice":false},"axis":{"values":[1,2,3,4,5],"title":"SLO Scale"}},"y":{"field":"y","type":"quantitative","scale":{"domain":[0,102],"nice":false},"axis":{"values":[0,25,50,75,100],"title":null}},"color":{"field":"s","type":"nominal","title":null,"legend":{"encode":{"symbols":{"update":{"stroke":{"scale":"color","field":"value"},"fill":{"scale":"color","field":"value"},"fillOpacity":{"value":1},"strokeDash":{"scale":"strokeDash","field":"value"}}}}}}},
"layer":[{"data":{"name":"r"},"transform":[{"filter":"datum.p==46"}],"mark":{"type":"rule","strokeDash":[2,3.3],"strokeWidth":2,"clip":true},"encoding":{"y2":{"datum":0}}},
{"transform":[{"filter":"datum.p==46"},{"fold":["AlpaServe","Clockwork++","SR"],"as":["s","y"]}],"mark":{"type":"line","strokeWidth":2,"clip":true},"encoding":{"strokeDash":{"field":"s","type":"nominal","legend":null,"scale":{"range":[[1,0],[7.4,3.2],[12.8,3.2,2,3.2]]}}}},
{"transform":[{"filter":"datum.p==46"},{"fold":["AlpaServe","Clockwork++","SR"],"as":["s","y"]}],"mark":{"type":"circle","size":30,"opacity":1,"clip":true}}]}
],
"config":{
"font":"DejaVu Sans",
"view":{"stroke":"#000","strokeWidth":1},
"range":{"category":["#2ca02c","#ff7f0e","#1f77b4"]},
"axis":{"labelFont":"DejaVu Sans","titleFont":"DejaVu Sans","labelFontSize":11.5,"titleFontSize":11.5,"titleFontWeight":"normal","labelColor":"#000","titleColor":"#000","tickColor":"#000","tickSize":3.5,"tickWidth":0.8,"domain":false,"gridColor":"#b0b0b0","gridWidth":0.8,"labelFlush":false,"labelOverlap":false,"labelPadding":0,"titlePadding":1},
"axisY":{"titlePadding":5,"labelPadding":1},
"title":{"font":"DejaVu Sans","fontSize":11.5,"fontWeight":"normal","color":"#000","offset":4},
"legend":{"orient":"none","legendX":474,"legendY":-49,"direction":"horizontal","symbolType":"M-1,0H1M-0.27,0A0.27,0.27,0,1,0,0.27,0A0.27,0.27,0,1,0,-0.27,0Z","symbolSize":484,"symbolStrokeWidth":2,"labelFont":"DejaVu Sans","labelFontSize":11.5,"labelColor":"#000","strokeColor":"#cccccc","fillColor":"#ffffff","padding":2,"cornerRadius":3,"columnPadding":18,"labelOffset":9}
}
}
